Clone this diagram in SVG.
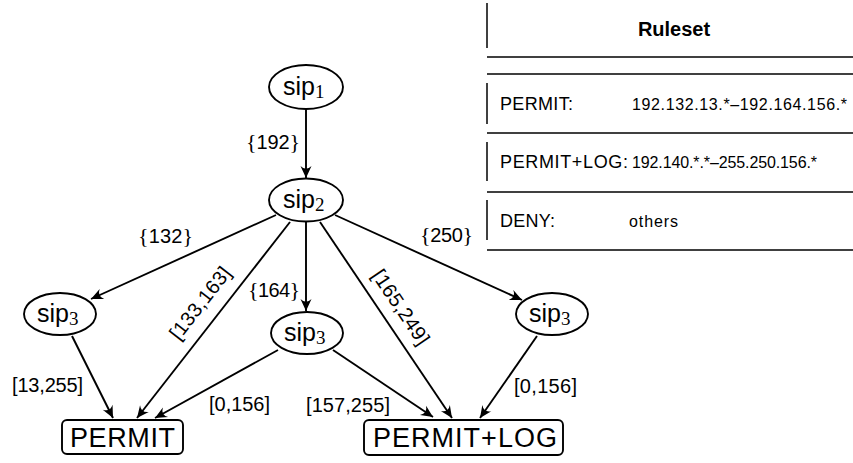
<svg xmlns="http://www.w3.org/2000/svg" width="853" height="463" viewBox="0 0 853 463">
<style>
.node{fill:#fff;stroke:#000;stroke-width:1.9}
.nt{font-family:"Liberation Sans",Arial,sans-serif;font-size:25px;fill:#000}
.sub{font-family:"Liberation Serif","Times New Roman",serif;font-size:19px;fill:#000}
.bt{font-family:"Liberation Sans",Arial,sans-serif;font-size:27px;fill:#000}
.edge{fill:none;stroke:#000;stroke-width:1.9;marker-end:url(#arr)}
.el{font-family:"Liberation Sans",Arial,sans-serif;font-size:20px;fill:#000}
.br{font-family:"Liberation Serif","Times New Roman",serif;font-size:22px}
.tl{stroke:#000;stroke-width:1.5}
.tt{font-family:"Liberation Sans",Arial,sans-serif;font-size:18px;fill:#000}
.ti{font-family:"Liberation Sans",Arial,sans-serif;font-size:16px;fill:#000}
.th{font-family:"Liberation Sans",Arial,sans-serif;font-size:20px;font-weight:bold;fill:#000}
</style>
<defs>
<marker id="arr" markerUnits="userSpaceOnUse" markerWidth="16" markerHeight="14" refX="0" refY="0" viewBox="-13 -7 15 14" orient="auto">
<path d="M0,0 L-12,-5.5 Q-6.5,0 -12,5.5 Z" fill="#000"/>
</marker>
</defs>
<rect width="853" height="463" fill="#fff"/>

<g id="connectors">
<line class="edge" x1="306" y1="109" x2="306" y2="178"/>
<line class="edge" x1="276" y1="215" x2="91" y2="299"/>
<line class="edge" x1="290" y1="222" x2="137" y2="418"/>
<line class="edge" x1="306" y1="222" x2="306" y2="311"/>
<line class="edge" x1="320" y1="222" x2="452" y2="418"/>
<line class="edge" x1="335" y1="215" x2="522" y2="300"/>
<line class="edge" x1="72" y1="336" x2="113" y2="418"/>
<line class="edge" x1="278" y1="350" x2="155" y2="418"/>
<line class="edge" x1="333" y1="350" x2="433" y2="417"/>
<line class="edge" x1="537" y1="336" x2="480" y2="418"/>
<text class="el" x="246" y="149" textLength="54"><tspan class="br">{</tspan>192<tspan class="br">}</tspan></text>
<text class="el" x="138" y="243" textLength="55"><tspan class="br">{</tspan>132<tspan class="br">}</tspan></text>
<text class="el" x="248" y="297" textLength="52"><tspan class="br">{</tspan>164<tspan class="br">}</tspan></text>
<text class="el" x="420" y="242" textLength="53"><tspan class="br">{</tspan>250<tspan class="br">}</tspan></text>
<text class="el" x="12" y="392" textLength="71">[13,255]</text>
<text class="el" x="209" y="411" textLength="61">[0,156]</text>
<text class="el" x="306" y="412" textLength="84">[157,255]</text>
<text class="el" x="514" y="393" textLength="63">[0,156]</text>
<text class="el" transform="translate(200,303) rotate(-52)" x="0" y="7" text-anchor="middle" textLength="86">[133,163]</text>
<text class="el" transform="translate(401,307) rotate(56)" x="0" y="7" text-anchor="middle" textLength="86">[165,249]</text>
</g>

<g id="sip1">
<ellipse class="node" cx="306" cy="87" rx="37" ry="22"/>
<text class="nt" x="283" y="95">sip</text><text class="sub" x="315" y="98">1</text>
</g>
<g id="sip2">
<ellipse class="node" cx="306" cy="200" rx="37" ry="21.5"/>
<text class="nt" x="283" y="208">sip</text><text class="sub" x="315" y="211">2</text>
</g>
<g id="sip3-left">
<ellipse class="node" cx="60" cy="314" rx="36" ry="21"/>
<text class="nt" x="37" y="322">sip</text><text class="sub" x="69" y="325">3</text>
</g>
<g id="sip3-mid">
<ellipse class="node" cx="307" cy="333" rx="36" ry="21"/>
<text class="nt" x="284" y="341">sip</text><text class="sub" x="316" y="344">3</text>
</g>
<g id="sip3-right">
<ellipse class="node" cx="552" cy="314" rx="36" ry="21"/>
<text class="nt" x="529" y="322">sip</text><text class="sub" x="561" y="325">3</text>
</g>
<g id="permit">
<rect class="node" x="62" y="420" width="121" height="34" rx="5" stroke-width="1.6"/>
<text class="bt" x="70" y="447" textLength="105">PERMIT</text>
</g>
<g id="permit-log">
<rect class="node" x="364" y="420" width="199" height="35" rx="5" stroke-width="1.6"/>
<text class="bt" x="373" y="447" textLength="184">PERMIT+LOG</text>
</g>

<g id="ruleset">
<line class="tl" x1="487" y1="3" x2="487" y2="48"/>
<text class="th" x="674" y="36" text-anchor="middle">Ruleset</text>
<line class="tl" x1="487" y1="57" x2="853" y2="57"/>
<line class="tl" x1="487" y1="74" x2="853" y2="74"/>
<line class="tl" x1="487" y1="83" x2="487" y2="124"/>
<text class="tt" x="500" y="110" textLength="73">PERMIT:</text>
<text class="ti" x="632" y="110" textLength="215">192.132.13.*–192.164.156.*</text>
<line class="tl" x1="487" y1="133" x2="853" y2="133"/>
<line class="tl" x1="487" y1="142" x2="487" y2="181"/>
<text class="tt" x="500" y="168" textLength="128">PERMIT+LOG:</text>
<text class="ti" x="632" y="168" textLength="185">192.140.*.*–255.250.156.*</text>
<line class="tl" x1="487" y1="192" x2="853" y2="192"/>
<line class="tl" x1="487" y1="200" x2="487" y2="240"/>
<text class="tt" x="500" y="227" textLength="55">DENY:</text>
<text class="ti" x="629" y="227" textLength="49">others</text>
<line class="tl" x1="487" y1="250" x2="853" y2="250"/>
</g>
</svg>
